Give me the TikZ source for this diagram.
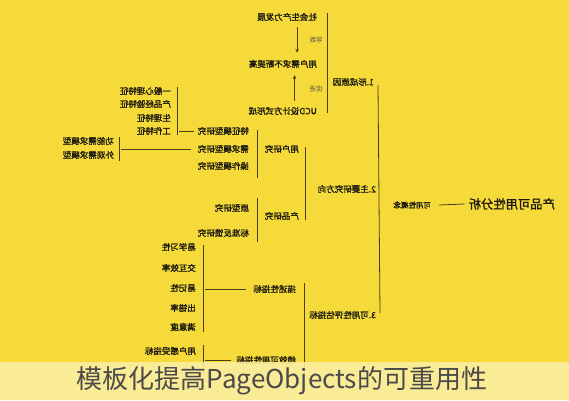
\documentclass[tikz,border=0pt]{standalone}
\usepackage{fontspec}
\setmainfont{Noto Sans CJK SC}
\newfontfamily\heavycjk{Noto Sans CJK SC}[FakeBold=1.6]
\newfontfamily\capcjk{Noto Sans CJK SC}
\usepackage{graphicx}
\usetikzlibrary{arrows.meta,positioning}

\definecolor{bgyellow}{HTML}{F6DA3A}
\definecolor{bannerbg}{HTML}{FBEDA2}
\definecolor{linebrown}{HTML}{4A3F14}
\definecolor{inkdark}{HTML}{1C1A10}
\definecolor{bannertext}{HTML}{4A4A4A}

% mirrored labels, as in the picture
\newcommand{\mir}[1]{\reflectbox{#1}}

\begin{document}
\begin{tikzpicture}[
    x=1pt, y=-1pt,
    item/.style={font=\fontsize{8.5}{9}\selectfont\heavycjk, text=inkdark, inner sep=1pt, anchor=east},
    rootitem/.style={item, font=\fontsize{12.3}{13}\selectfont\heavycjk},
    small/.style={item, font=\fontsize{7.5}{8}\selectfont\heavycjk},
    tiny/.style={font=\fontsize{6.5}{7}\selectfont, text=inkdark!75, inner sep=0pt},
    link/.style={draw=linebrown, line width=0.8pt},
    flow/.style={link, -{Stealth[length=4pt,width=3.5pt]}}
]

\fill[bgyellow] (0,0) rectangle (569,400);
\useasboundingbox (0,0) rectangle (569,400);

% root and concept
\node[rootitem] (root) at (556,204) {\mir{产品可用性分析}};
\node[small] (concept) at (432,205) {\mir{可用性概念}};
\draw[link] ([xshift=-3pt]root.west) -- ([xshift=7pt]concept.east);

% three main branches
\node[item] (why) at (375,82) {\mir{1.形成原因}};
\node[item] (dir) at (377,189) {\mir{2.主要研究方向}};
\node[item] (eval) at (377,315) {\mir{3.可用性评估指标}};
\draw[link] ([xshift=3pt,yshift=-3pt]why.east) -- ([xshift=3pt,yshift=2pt]eval.east);

% 1. causes
\node[item] (prod) at (318,17) {\mir{社会生产力发展}};
\node[item] (need) at (318,64) {\mir{用户需求不断提高}};
\node[item] (ucd) at (318,111) {\mir{UCD设计方式形成}};
\draw[link] ([xshift=9pt,yshift=4pt]prod.east) -- ([xshift=9pt,yshift=-2pt]ucd.east);
\node[tiny] (lead) at (316,40) {\mir{导致}};
\node[tiny] (push) at (316,89) {\mir{促进}};
\draw[flow] ([xshift=10pt,yshift=-5pt]prod.south) -- ([xshift=10pt,yshift=6pt]prod.south |- need.north);
\draw[flow] ([xshift=12pt,yshift=5pt]ucd.north) -- ([xshift=12pt,yshift=-6pt]ucd.north |- need.south);

% 2. research directions
\node[item] (user) at (300,149) {\mir{用户研究}};
\node[item] (product) at (300,216) {\mir{产品研究}};
\draw[link] ([xshift=5pt,yshift=2pt]user.east) -- ([xshift=5pt,yshift=-4pt]product.east);

\node[item] (trait) at (250,131) {\mir{特征模型研究}};
\node[item] (demand) at (250,149) {\mir{需求模型研究}};
\node[item] (operate) at (250,166) {\mir{操作模型研究}};
\draw[link] ([xshift=7pt,yshift=1pt]trait.east) -- ([xshift=7pt,yshift=-12pt]operate.east);

\node[item] (proto) at (250,208) {\mir{原型研究}};
\node[item] (feedback) at (250,233) {\mir{标准反馈研究}};
\draw[link] ([xshift=7pt,yshift=10pt]proto.east) -- ([xshift=7pt,yshift=-9pt]feedback.east);

\node[item] (mind) at (172,91) {\mir{一般心理特征}};
\node[item] (exp) at (172,104) {\mir{产品经验特征}};
\node[item] (body) at (172,118) {\mir{生理特征}};
\node[item] (work) at (172,131) {\mir{工作特征}};
\draw[link] ([xshift=-3pt]trait.west) -- ([xshift=7pt]work.east);
\draw[link] ([xshift=5pt,yshift=4pt]mind.east) -- ([xshift=5pt,yshift=-4pt]work.east);

\node[item] (func) at (115,141) {\mir{功能需求模型}};
\node[item] (look) at (115,155) {\mir{外观需求模型}};
\draw[link] ([xshift=-6pt]demand.west) -- ([xshift=6pt]demand.west -| func.east);
\draw[link] ([xshift=4pt,yshift=4pt]func.east) -- ([xshift=4pt,yshift=-6pt]look.east);

% 3. evaluation metrics
\node[item] (descr) at (297,289) {\mir{描述性指标}};
\node[item] (perf) at (297,360) {\mir{绩效可用性指标}};
\draw[link] ([xshift=7pt,yshift=6pt]descr.east) -- ([xshift=7pt,yshift=-16pt]perf.east);

\node[item] (learn) at (197,247) {\mir{易学习性}};
\node[item] (effic) at (197,268) {\mir{交互效率}};
\node[item] (memo) at (197,288) {\mir{易记性}};
\node[item] (error) at (197,308) {\mir{出错率}};
\node[item] (satis) at (197,327) {\mir{满意度}};
\draw[link] ([xshift=-6pt]descr.west) -- ([xshift=8pt]descr.west -| memo.east);
\draw[link] ([xshift=6pt,yshift=2pt]learn.east) -- ([xshift=6pt,yshift=-5pt]satis.east);

\node[item] (feel) at (197,351) {\mir{用户感受指标}};
\draw[link] ([xshift=-4pt]perf.west) -- ([xshift=8pt]perf.west -| feel.east);
\draw[link] ([xshift=6pt,yshift=6pt]feel.east) -- ([xshift=6pt,yshift=-24pt]feel.east);

% caption banner
\fill[bannerbg, opacity=0.9] (0,362) rectangle (569,400);
\node[text=bannertext, font=\fontsize{26}{28}\selectfont\capcjk, inner sep=0pt] (banner) at (282,381) {模板化提高PageObjects的可重用性};

\end{tikzpicture}
\end{document}
